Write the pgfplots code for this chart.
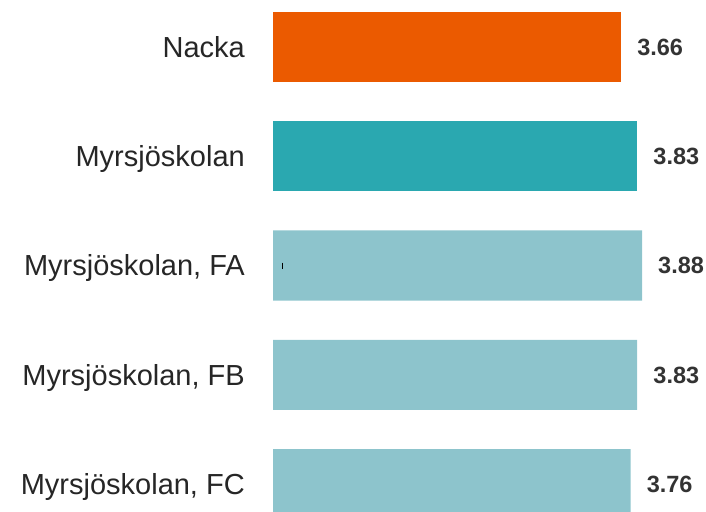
\documentclass[border=0pt]{standalone}
\usepackage{pgfplots}
\pgfplotsset{compat=1.18}
\usepackage{fontspec}
\setmainfont{Liberation Sans}
\definecolor{cOrange}{HTML}{EB5A00}
\definecolor{cTeal}{HTML}{2AA8B0}
\definecolor{cLight}{HTML}{8DC4CC}
\definecolor{cText}{HTML}{262626}
\definecolor{cVal}{HTML}{333333}
\begin{document}
\begin{tikzpicture}
\path[use as bounding box] (0,0) rectangle (706bp,512bp);
\begin{axis}[
  at={(273bp,0bp)}, anchor=south west,
  scale only axis, width=433bp, height=512bp,
  xmin=0, xmax=4.553,
  y dir=reverse, ymin=-0.430, ymax=4.256,
  axis line style={draw=none},
  ytick={0,1,2,3,4},
  yticklabels={Nacka,Myrsjöskolan,{Myrsjöskolan, FA},{Myrsjöskolan, FB},{Myrsjöskolan, FC}},
  yticklabel style={anchor=base east, inner sep=0pt, xshift=-28bp, yshift=-10.4bp,
    font=\fontsize{29bp}{34bp}\selectfont, text=cText},
  major tick length=0pt,
  tick style={draw=none},
  xtick=\empty,
  every node near coord/.append style={anchor=base west, inner sep=0pt, xshift=16bp, yshift=-8.4bp,
    font=\fontsize{23.5bp}{28bp}\selectfont\bfseries, text=cVal},
  /pgf/number format/assume math mode=true,
]
\pgfplotsset{mybar/.style={xbar, bar shift=0pt, bar width=0.641, draw=none,
  nodes near coords, nodes near coords style={/pgf/number format/.cd, fixed, precision=2, fixed zerofill, assume math mode=true}}}
\addplot[mybar, fill=cOrange] coordinates {(3.66,0)};
\addplot[mybar, fill=cTeal] coordinates {(3.83,1)};
\addplot[mybar, fill=cLight] coordinates {(3.88,2) (3.83,3) (3.76,4)};
\addplot[only marks, mark=|, mark size=3bp, black, line width=1.2bp] coordinates {(0.1,2)};
\end{axis}
\end{tikzpicture}
\end{document}
